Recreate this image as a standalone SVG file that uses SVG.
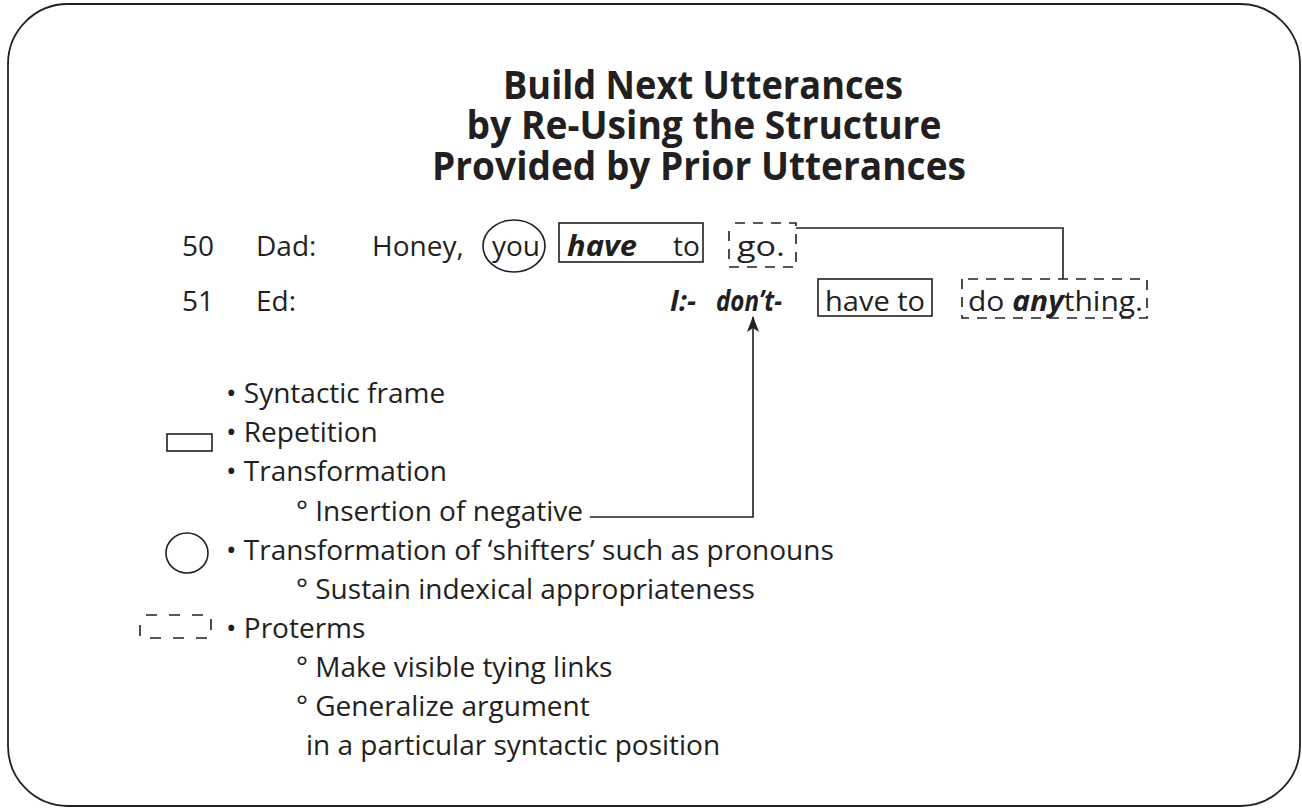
<svg xmlns="http://www.w3.org/2000/svg" width="1302" height="809" viewBox="0 0 1302 809">
<style>
.t{font-family:"Open Sans","Noto Sans","Liberation Sans",sans-serif;font-size:28px;fill:#231f20}
.ti{font-family:"Open Sans","Noto Sans","Liberation Sans",sans-serif;font-size:39px;font-weight:bold;fill:#231f20}
.bi{font-weight:bold;font-style:italic}
.box{fill:none;stroke:#231f20;stroke-width:1.6}
.dash{fill:none;stroke:#231f20;stroke-width:1.6;stroke-dasharray:10 8}
.dash2{fill:none;stroke:#231f20;stroke-width:1.6;stroke-dasharray:11 12}
.con{fill:none;stroke:#231f20;stroke-width:1.6}
</style>
<defs>
<marker id="ah" viewBox="0 0 16 12" refX="15" refY="6" markerWidth="16" markerHeight="12" markerUnits="userSpaceOnUse" orient="auto">
<path d="M0,0 L16,6 L0,12 L4,6 Z" fill="#231f20"/>
</marker>
</defs>
<rect x="8" y="4" width="1292" height="802" rx="60" ry="60" fill="#fff" stroke="#231f20" stroke-width="1.8"/>
<g id="title">
<text class="ti" x="703" y="99" text-anchor="middle" textLength="400" lengthAdjust="spacingAndGlyphs">Build Next Utterances</text>
<text class="ti" x="704" y="139" text-anchor="middle" textLength="475" lengthAdjust="spacingAndGlyphs">by Re-Using the Structure</text>
<text class="ti" x="699" y="180" text-anchor="middle" textLength="534" lengthAdjust="spacingAndGlyphs">Provided by Prior Utterances</text>
</g>
<g id="line50">
<text class="t" x="182" y="256">50</text>
<text class="t" x="256" y="256">Dad:</text>
<text class="t" x="372" y="256">Honey,</text>
<ellipse class="box" cx="514" cy="246" rx="31" ry="26"/>
<text class="t" x="492" y="256">you</text>
<rect class="box" x="559" y="223" width="144" height="39"/>
<text class="t bi" x="567" y="256" textLength="70" lengthAdjust="spacingAndGlyphs">have</text>
<text class="t" x="673" y="256">to</text>
<rect class="dash" x="729" y="223" width="67" height="44" stroke-dashoffset="12"/>
<text class="t" x="737" y="256" textLength="48" lengthAdjust="spacingAndGlyphs">go.</text>
</g>
<g id="line51">
<text class="t" x="182" y="311">51</text>
<text class="t" x="256" y="311">Ed:</text>
<text class="t bi" x="670" y="311" textLength="26" lengthAdjust="spacingAndGlyphs">I:-</text>
<text class="t bi" x="716" y="311" textLength="66" lengthAdjust="spacingAndGlyphs">don’t-</text>
<rect class="box" x="818" y="279" width="114" height="37"/>
<text class="t" x="825" y="311" textLength="100" lengthAdjust="spacingAndGlyphs">have to</text>
<rect class="dash" x="962" y="279" width="185" height="39" stroke-dashoffset="12"/>
<text class="t" x="968" y="311" textLength="175" lengthAdjust="spacingAndGlyphs">do <tspan class="bi">any</tspan>thing.</text>
</g>
<g id="connectors">
<path class="con" d="M796,228 H1063 V279"/>
<path class="con" d="M590,517 H753 V317" marker-end="url(#ah)"/>
</g>
<g id="legend-frame">
<text class="t" x="226" y="403">• Syntactic frame</text>
</g>
<g id="legend-repetition">
<rect class="box" x="167" y="434" width="45" height="17"/>
<text class="t" x="226" y="442">• Repetition</text>
</g>
<g id="legend-transformation">
<text class="t" x="226" y="481">• Transformation</text>
<text class="t" x="296" y="521">° Insertion of negative</text>
</g>
<g id="legend-shifters">
<ellipse class="box" cx="187" cy="553" rx="21" ry="20"/>
<text class="t" x="226" y="560">• Transformation of ‘shifters’ such as pronouns</text>
<text class="t" x="296" y="599">° Sustain indexical appropriateness</text>
</g>
<g id="legend-proterms">
<rect class="dash2" x="140" y="615" width="71" height="23" stroke-dashoffset="17"/>
<text class="t" x="226" y="638">• Proterms</text>
<text class="t" x="296" y="677">° Make visible tying links</text>
<text class="t" x="296" y="716">° Generalize argument</text>
<text class="t" x="306" y="755">in a particular syntactic position</text>
</g>
</svg>
